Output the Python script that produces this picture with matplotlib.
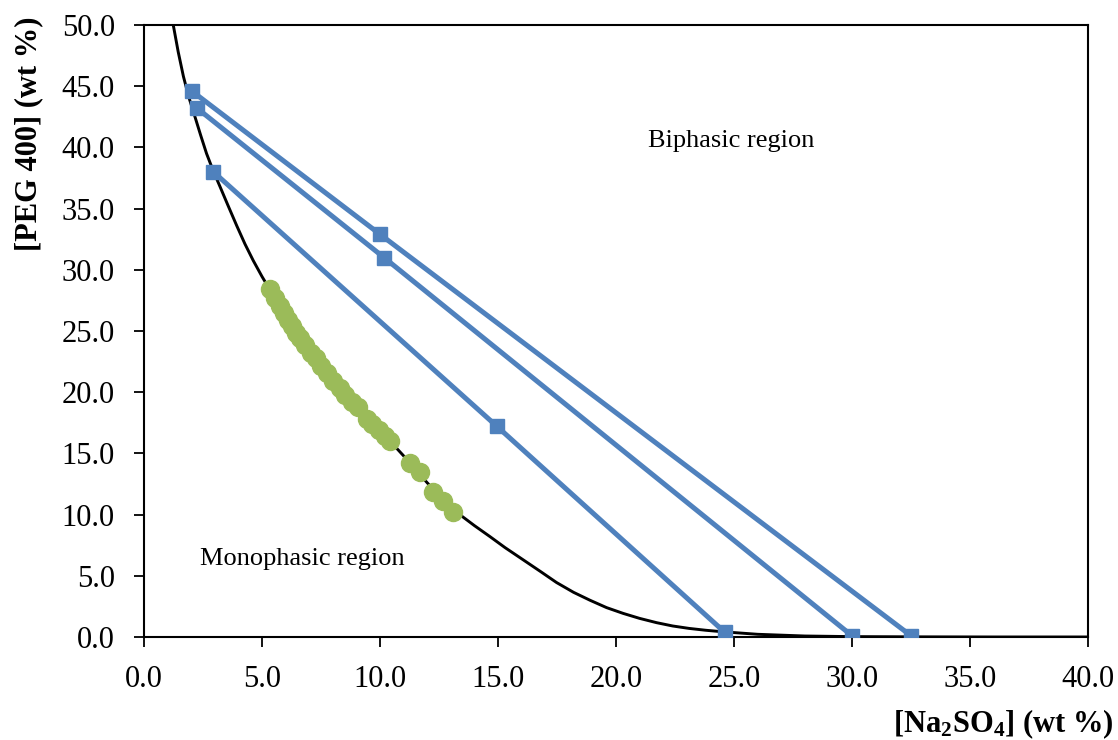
import matplotlib

matplotlib.use("Agg")
import matplotlib.pyplot as plt

# binodal curve
curve_x = [1.24, 1.45, 1.67, 1.9, 2.16, 2.4, 2.65, 2.93, 3.22, 3.55, 3.93, 4.28, 4.63,
           5.0, 5.34, 6.0, 7.0, 8.0, 9.0, 10.0, 11.0, 12.0, 12.7, 13.4, 14.0, 14.66,
           15.3, 16.07, 16.8, 17.48, 18.2, 18.9, 19.6, 20.3, 21.0, 21.72, 22.4, 23.1,
           23.8, 24.5, 26.0, 28.0, 30.0, 33.0, 36.0, 40.0]
curve_y = [50.0, 47.8, 45.8, 44.1, 42.5, 41.0, 39.5, 38.1, 36.8, 35.3, 33.6, 32.1, 30.75,
           29.45, 28.35, 26.2, 23.4, 21.0, 18.9, 16.9, 14.8, 12.6, 11.2, 9.97, 9.1, 8.2,
           7.3, 6.3, 5.35, 4.45, 3.65, 3.0, 2.4, 1.93, 1.52, 1.17, 0.9, 0.7,
           0.55, 0.43, 0.22, 0.08, 0.03, 0.01, 0.0, 0.0]

# experimental cloud points
exp_x = [5.34, 5.55, 5.76, 5.93, 6.10, 6.27, 6.44, 6.61, 6.82, 7.08, 7.29, 7.50, 7.75,
         8.00, 8.31, 8.52, 8.81, 9.07, 9.45, 9.66, 9.96, 10.21, 10.42,
         11.27, 11.69, 12.25, 12.67, 13.09]
exp_y = [28.43, 27.70, 27.04, 26.47, 25.90, 25.41, 24.84, 24.43, 23.86, 23.20, 22.79,
         22.14, 21.57, 20.92, 20.34, 19.77, 19.20, 18.79, 17.81, 17.40, 16.91, 16.42,
         16.01, 14.22, 13.48, 11.85, 11.11, 10.21]

# tie lines: top phase, mixture point, bottom phase
tie_x = [[2.03, 10.0, 32.5], [2.25, 10.17, 30.0], [2.94, 14.96, 24.6]]
tie_y = [[44.6, 32.9, 0.1], [43.2, 31.0, 0.1], [38.0, 17.2, 0.4]]

x_ticks = [0, 5, 10, 15, 20, 25, 30, 35, 40]
y_ticks = [0, 5, 10, 15, 20, 25, 30, 35, 40, 45, 50]

plt.rcParams["font.family"] = ["Liberation Serif", "DejaVu Serif"]
plt.rcParams["mathtext.fontset"] = "custom"
plt.rcParams["mathtext.rm"] = "Liberation Serif:bold"
plt.rcParams["mathtext.bf"] = "Liberation Serif:bold"
plt.rcParams["mathtext.default"] = "bf"

fig = plt.figure(figsize=(11.18, 7.4), dpi=100)
ax = fig.add_axes([0.1288, 0.1392, 0.8444, 0.827])

ax.plot(curve_x, curve_y, color="black", linewidth=2.1, zorder=2)
for tx, ty in zip(tie_x, tie_y):
    ax.plot(tx, ty, color="#4F81BD", linewidth=3.6, marker="s", markersize=9.5, zorder=3)
ax.plot(exp_x, exp_y, linestyle="none", marker="o", markersize=13,
        color="#9BBB59", zorder=4)

ax.text(24.9, 40.5, "Biphasic region", fontsize=19, ha="center", va="center")
ax.text(6.72, 6.4, "Monophasic region", fontsize=19, ha="center", va="center")

ax.set_xlim(0, 40)
ax.set_ylim(0, 50)
ax.set_xticks(x_ticks)
ax.set_yticks(y_ticks)
ax.set_xticklabels([f"{v:.1f}" for v in x_ticks])
ax.set_yticklabels([f"{v:.1f}" for v in y_ticks])
ax.tick_params(labelsize=22, length=7, width=1.3, direction="out")
ax.tick_params(axis="x", pad=13)
ax.tick_params(axis="y", pad=14)
for spine in ax.spines.values():
    spine.set_linewidth(1.5)

ax.set_xlabel(r"[Na$_2$SO$_4$] (wt %)", fontsize=22, fontweight="bold", loc="right")
ax.xaxis.label.set_va("center")
ax.xaxis.set_label_coords(1.0275, -0.142)
ax.set_ylabel("[PEG 400] (wt %)", fontsize=22, fontweight="bold")
ax.yaxis.label.set_va("center")
ax.yaxis.set_label_coords(-0.1224, 0.822)

fig.savefig("out.png", dpi=100)
